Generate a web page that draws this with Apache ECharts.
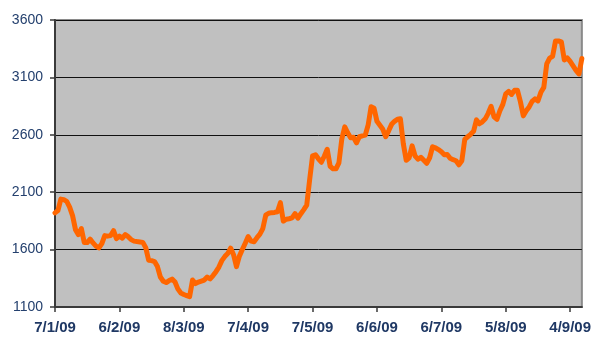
<!DOCTYPE html>
<html>
<head>
<meta charset="utf-8">
<script src="https://cdn.jsdelivr.net/npm/echarts@6/dist/echarts.min.js"></script>
<style>
html,body{margin:0;padding:0;background:#fff;}
#chart{width:594px;height:338px;}
</style>
</head>
<body>
<div id="chart"></div>
<script>
// Tick labels shown every 22 trading days
var tickLabels = ['7/1/09','6/2/09','8/3/09','7/4/09','7/5/09','6/6/09','6/7/09','5/8/09','4/9/09'];
var tickEvery = 22;

// Daily index values
var values = [
  1920,1940,2040,2035,2020,1970,1896,1774,1730,1783,
  1661,1661,1691,1658,1630,1615,1652,1722,1717,1722,
  1765,1696,1717,1700,1730,1713,1687,1674,1670,1667,
  1663,1617,1507,1504,1496,1452,1361,1324,1313,1330,
  1343,1317,1256,1222,1209,1200,1191,1335,1304,1317,
  1326,1335,1361,1345,1374,1408,1448,1504,1539,1565,
  1613,1556,1452,1543,1600,1656,1713,1674,1669,1704,
  1735,1783,1900,1917,1922,1924,1930,2009,1848,1865,
  1869,1876,1913,1874,1913,1948,1987,2209,2417,2426,
  2391,2361,2413,2474,2326,2304,2304,2356,2565,2669,
  2617,2574,2578,2530,2583,2591,2597,2687,2845,2832,
  2717,2683,2648,2583,2635,2691,2717,2735,2739,2522,
  2378,2400,2504,2417,2387,2404,2378,2352,2400,2496,
  2487,2471,2452,2426,2428,2395,2383,2374,2339,2374,
  2561,2583,2604,2630,2730,2696,2713,2739,2787,2848,
  2756,2735,2809,2865,2956,2978,2952,2987,2987,2889,
  2765,2809,2843,2891,2913,2896,2970,3013,3217,3268,
  3283,3417,3417,3409,3252,3270,3239,3200,3161,3130,
  3265
];

var categories = values.map(function(v, i){ return String(i); });

var chart = echarts.init(document.getElementById('chart'), null, {renderer:'canvas'});
chart.setOption({
  animation: false,
  backgroundColor: '#ffffff',
  grid: {
    left: 55, right: 7, top: 20, bottom: 31,
    show: true,
    backgroundColor: '#C0C0C0',
    borderColor: '#8a8a8a',
    borderWidth: 2
  },
  xAxis: {
    type: 'category',
    data: categories,
    boundaryGap: false,
    axisLine: { show: true, lineStyle: { color: '#3a3a3a', width: 2 } },
    axisTick: { show: true, interval: tickEvery - 1, length: 5, inside: false, lineStyle: { color: '#3a3a3a', width: 1.5 } },
    axisLabel: {
      interval: tickEvery - 1,
      margin: 13,
      color: '#1F3864',
      fontWeight: 'bold',
      fontSize: 15,
      fontFamily: '"Liberation Sans Narrow", "Arial Narrow", Arial, sans-serif',
      formatter: function(v){
        var k = Number(v) / tickEvery;
        return (Number(v) % tickEvery === 0 && tickLabels[k]) ? tickLabels[k] : '';
      }
    },
    splitLine: { show: false }
  },
  yAxis: {
    type: 'value',
    min: 1100, max: 3600, interval: 500,
    axisLine: { show: true, lineStyle: { color: '#3a3a3a', width: 2 } },
    axisTick: { show: true, length: 5, lineStyle: { color: '#3a3a3a', width: 1.5 } },
    axisLabel: {
      margin: 12,
      color: '#24406E',
      fontSize: 14,
      fontFamily: 'Arial, "Liberation Sans", sans-serif',
      formatter: function(v){ return String(v); }
    },
    splitLine: { show: true, lineStyle: { color: '#111', width: 1 } }
  },
  series: [{
    type: 'line',
    data: values,
    showSymbol: false,
    symbol: 'none',
    lineStyle: { color: '#FF6600', width: 5, join: 'round', cap: 'round' },
    z: 3
  }]
});
</script>
</body>
</html>
